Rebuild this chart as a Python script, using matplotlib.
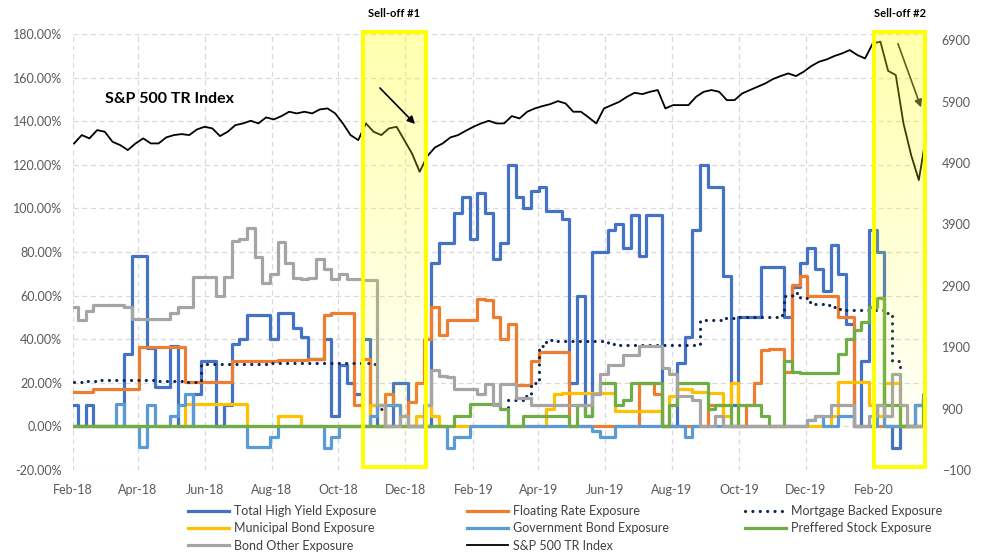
import numpy as np
import pandas as pd
import matplotlib
matplotlib.use('Agg')
import matplotlib.pyplot as plt
import matplotlib.dates as mdates
from matplotlib.patches import Rectangle
from matplotlib.ticker import FuncFormatter

plt.rcParams['font.family'] = ['Lato', 'DejaVu Sans']

# -------------------------
# data: weekly (Friday) readings, exposures in %, index in points
# -------------------------
DATES = pd.date_range('2018-02-02', '2020-03-20', freq='W-FRI')

HIGH_YIELD = [10, 0, 10, 0, 0, 0, 0, 33, 78, 78,
              36, 18, 18, 37, 0, 0, 15, 30, 30, 0,
              10, 38, 40, 51, 51, 51, 40, 52, 52, 45,
              41, 31, 31, 40, 5, 28, 20, 15, 40, 10,
              0, 0, 20, 20, 0, 0, 0, 75, 84, 84,
              98, 105, 86, 107, 98, 77, 84, 120, 105, 100,
              108, 110, 99, 99, 95, 20, 60, 5, 80, 80,
              90, 93, 82, 97, 78, 97, 97, 0, 0, 29,
              41, 90, 120, 110, 110, 69, 10, 50, 50, 50,
              73, 73, 73, 50, 64, 75, 82, 72, 62, 83,
              70, 47, 0, 30, 90, 80, 0, -10, 0, 0,
              10, 13]

FLOATING = [15.7, 15.7, 16, 17, 17, 17, 17, 17, 17, 36.4,
            36.4, 36.4, 36.4, 36.4, 36.4, 20.3, 20.3, 20.3, 20.3, 20.3,
            20.3, 30, 30, 30, 30, 30, 30, 30.5, 30.5, 30.5,
            30.5, 31, 31, 51, 52, 52, 52, 10, 31, 0,
            0, 15, 10, 5, 11, 20, 40, 55, 42, 48.6,
            48.6, 48.6, 48.6, 58.6, 58, 50, 40, 47, 19, 19,
            30, 34, 34, 34, 34, 0, 0, 0, 0, 0,
            0, 0, 0, 0, 20, 20, 15, 0, 0, 0,
            0, 0, 0, 10, 10, 0, 0, 0, 10, 20,
            35, 35.7, 35.7, 25, 65, 69, 60, 60, 60, 60,
            50, 50, 0, 0, 0, 0, 0, 0, 0, 0,
            0, 0]

MORTGAGE = [20.3, 20.5, 20.8, 21, 21.4, 21.4, 21.4, 21.4, 21.4, 21.4,
            21.2, 21, 21, 21, 20.8, 20.5, 20.3, 28.7, 28.7, 28.7,
            28.7, 28.7, 28.7, 28.7, 28.7, 28.7, 29, 29, 29, 29,
            29, 29, 29.3, 29.3, 29.3, 29.3, 29.3, 29.3, 29.3, 28.5,
            8, 0, 0, 0, 0, 0, 0, 0, 0, 0,
            0, 0, 0, 0, 0, 0, 0, 12, 12, 14,
            20, 37, 39.6, 39.4, 39.4, 39.4, 39.4, 39.4, 39.4, 39,
            38, 37.5, 37.5, 37.5, 37.5, 37.5, 37.5, 37.5, 37.5, 37.5,
            37.5, 37.5, 48.6, 49, 49, 49.5, 49.5, 50, 50, 50,
            50, 50, 51, 60, 61, 59, 57, 56, 55.5, 55,
            54, 53.5, 53.2, 53.2, 53.2, 53.2, 52, 30, 0, 0,
            0, 0]

MUNICIPAL = [0, 0, 0, 0, 0, 0, 0, 0, 0, 0,
             0, 0, 0, 0, 0, 10.4, 10.4, 10.4, 10.4, 10.4,
             10.4, 10.4, 10.4, 0, 0, 0, 0, 5, 5, 5,
             0, 0, 0, 0, 0, 0, 0, 0, 0, 10,
             10, 0, 0, 0, 0, 5, 10, 5, 0, 0,
             0, 0, 0, 0, 0, 0, 0, 0, 0, 0,
             0, 0, 8, 15, 15.5, 15.5, 15.5, 15.5, 15.5, 15.5,
             15.5, 7, 7, 7, 7, 7, 7, 0, 14, 17,
             17, 16, 16, 15.5, 15.5, 5, 20, 0, 0, 0,
             0, 0, 0, 0, 0, 0, 0, 0, 0, 5,
             20.3, 20.3, 20.3, 20.3, 10, 5, 20, 20, 0, 0,
             0, 0]

GOVERNMENT = [0, 0, 0, 0, 0, 0, 10.4, 0, 0, -9.5,
              10, 0, 0, 5, 10, 15, 0, 0, 0, 0,
              0, 0, 0, -9.5, -9.5, -9.5, -5, 0, 0, 0,
              0, 0, 0, -10, -5, 0, 0, 0, 0, 5,
              10, 10, 10, 0, 0, 0, 0, 0, 0, -10,
              -5, -5, 0, 0, 0, 0, 0, 0, 0, 0,
              0, 0, 0, 0, 0, 0, 0, 0, -2, -5,
              -5, 0, 0, 0, 0, 0, 0, 0, 0, 0,
              -5, 0, 0, 0, 0, 0, 0, 0, 0, 0,
              0, 0, 0, 0, 0, 0, 3, 5, 0, 0,
              5, 5, 0, 0, 0, 10, 0, 0, 0, 0,
              10, 15]

PREFERRED = [0, 0, 0, 0, 0, 0, 0, 0, 0, 0,
             0, 0, 0, 0, 0, 0, 0, 0, 0, 0,
             0, 0, 0, 0, 0, 0, 0, 0, 0, 0,
             0, 0, 0, 0, 0, 0, 0, 0, 0, 0,
             0, 0, 0, 0, 0, 0, 0, 0, 0, 0,
             5, 5, 10.4, 10.4, 10.4, 10.4, 8, 0, 0, 5,
             5, 5, 5, 5, 5, 0, 10, 5, 15, 20,
             20, 10, 12, 20, 20, 20, 20, 0, 10, 20,
             20, 20, 20, 8, 10, 10, 0, 10, 10, 10,
             5, 0, 0, 30, 25, 24.5, 24.5, 24.5, 24.5, 24.5,
             33, 40, 44, 48, 55, 59, 10, 10, 0, 0,
             0, 12]

BOND_OTHER = [55, 48.6, 53, 55.5, 55.5, 55.5, 55.5, 54.7, 49.4, 49.4,
              49.4, 49.4, 49.4, 52, 54.7, 54.7, 68.5, 68.5, 68.5, 60,
              68.5, 85, 86, 91, 77.6, 66, 70, 84.5, 75, 68,
              67.7, 68, 77, 72, 67.7, 70, 67.7, 67.5, 67, 67,
              10, 0, 0, 5, 0, 0, 10, 25.7, 23, 22.6,
              17, 17, 17, 15, 19.6, 9.6, 19.6, 19.6, 13, 13,
              10, 9.6, 9.6, 9.6, 9.6, 9.6, 9.6, 9.6, 15, 24,
              28, 28, 32.6, 32.6, 37, 37, 37, 27, 24, 14,
              14, 12, 0, 0, 5, 0, 0, 0, 0, 0,
              0, 0, 0, 0, 0, 0, 3, 5, 5, 10,
              10, 10, 0, 0, 5, 10, 5, 24, 10, 0,
              0, 0]

SP500_TR = [5218, 5354, 5300, 5435, 5408, 5245, 5191, 5110, 5218, 5300,
            5218, 5218, 5316, 5354, 5370, 5354, 5446, 5489, 5463, 5338,
            5408, 5516, 5544, 5587, 5544, 5642, 5609, 5663, 5734, 5707,
            5734, 5707, 5772, 5788, 5707, 5544, 5354, 5272, 5544, 5408,
            5354, 5463, 5489, 5272, 5055, 4757, 5012, 5153, 5218, 5316,
            5354, 5424, 5489, 5544, 5587, 5544, 5544, 5663, 5625, 5734,
            5788, 5826, 5858, 5907, 5869, 5734, 5734, 5642, 5544, 5788,
            5842, 5896, 5978, 6043, 6021, 6059, 6087, 5788, 5842, 5842,
            5842, 5978, 6059, 6087, 6059, 5923, 5923, 6032, 6087, 6141,
            6195, 6266, 6315, 6358, 6315, 6385, 6478, 6548, 6586, 6641,
            6684, 6738, 6657, 6602, 6847, 6874, 6400, 6331, 5544, 5028,
            4621, 5381]

SELLOFFS = [('Sell-off #1', '2018-10-23', '2018-12-20'),
            ('Sell-off #2', '2020-02-01', '2020-03-19')]

# name, values, colour, dotted?
EXPOSURES = [
    ('Total High Yield Exposure', HIGH_YIELD, '#4472C4', False),
    ('Floating Rate Exposure', FLOATING, '#ED7D31', False),
    ('Mortgage Backed Exposure', MORTGAGE, '#0D2557', True),
    ('Municipal Bond Exposure', MUNICIPAL, '#FFC000', False),
    ('Government Bond Exposure', GOVERNMENT, '#5B9BD5', False),
    ('Preffered Stock Exposure', PREFERRED, '#70AD47', False),
    ('Bond Other Exposure', BOND_OTHER, '#A5A5A5', False),
]

W, H = 982, 554
fig = plt.figure(figsize=(W / 100, H / 100), dpi=100)
ax = fig.add_axes([73 / W, 1 - 470 / H, (926.5 - 73) / W, 436 / H])
ax2 = ax.twinx()

handles = {}
for name, vals, col, dotted in EXPOSURES:
    # exposures move in steps, so hold each weekly value
    if dotted:
        ln, = ax.plot(DATES, vals, color=col, lw=2.3, ls=(0, (0.01, 2.3)),
                      dash_capstyle='round', drawstyle='steps-mid', label=name)
    else:
        ln, = ax.plot(DATES, vals, color=col, lw=2.3, solid_joinstyle='round',
                      drawstyle='steps-mid', label=name)
    handles[name] = ln

sp, = ax2.plot(DATES, SP500_TR, color='black', lw=1.3, label='S&P 500 TR Index')
handles['S&P 500 TR Index'] = sp

# sell-off boxes: fading yellow overlay + yellow frame
grad = np.zeros((256, 1, 4))
grad[..., 0] = 1.0
grad[..., 1] = 1.0
grad[..., 3] = np.linspace(0.32, 0.0, 256)[:, None]
xt = ax2.get_xaxis_transform()
for label, d0, d1 in SELLOFFS:
    x0 = mdates.date2num(pd.Timestamp(d0))
    x1 = mdates.date2num(pd.Timestamp(d1))
    ax2.imshow(grad, extent=[x0, x1, 0.007, 1.0], transform=xt, aspect='auto',
               interpolation='bilinear', zorder=5)
    ax2.add_patch(Rectangle((x0, 0.007), x1 - x0, 0.998, transform=xt, fill=False,
                            ec='#FFFF00', lw=2.8, zorder=6, clip_on=False))
    ax2.text((x0 + x1) / 2, 1.046, label, transform=xt, ha='center', va='center',
             fontsize=8, fontweight='bold', color='black')

# arrows
ax2.annotate('', xy=(417, H - 126), xycoords='figure pixels', xytext=(378, H - 86),
             textcoords='figure pixels', zorder=7,
             arrowprops=dict(arrowstyle='-|>', color='black', lw=1.2, mutation_scale=11))
ax2.annotate('', xy=(922, H - 110), xycoords='figure pixels', xytext=(897, H - 41),
             textcoords='figure pixels', zorder=4,
             arrowprops=dict(arrowstyle='-|>', color='#222222', lw=1.2, mutation_scale=11))

fig.text(105 / W, 1 - 99 / H, 'S&P 500 TR Index', fontsize=11.5, fontweight='bold',
         ha='left', va='center')

# axes
ax.set_xlim(pd.Timestamp('2018-02-01'), pd.Timestamp('2020-03-20'))
ax2.set_xlim(pd.Timestamp('2018-02-01'), pd.Timestamp('2020-03-20'))
ax.set_ylim(-20, 180)
ax.set_yticks(range(-20, 181, 20))
ax.yaxis.set_major_formatter(FuncFormatter(lambda v, p: f'{v:.2f}%'))
ax2.set_ylim(-100, 7000)
ax2.set_yticks(range(-100, 6901, 1000))
ax.xaxis.set_major_locator(mdates.MonthLocator(bymonth=(2, 4, 6, 8, 10, 12)))
ax.xaxis.set_major_formatter(mdates.DateFormatter('%b-%y'))
ax.grid(True, color='#D9D9D9', ls=(0, (4, 3)), lw=0.9)
ax.set_axisbelow(True)
for a in (ax, ax2):
    for s in a.spines.values():
        s.set_visible(False)
    a.tick_params(length=0, labelsize=9, labelcolor='#595959')
ax.tick_params(axis='y', pad=8)
ax.tick_params(axis='x', pad=10)
ax2.tick_params(axis='y', pad=11)

# legend, three columns
cols = [['Total High Yield Exposure', 'Municipal Bond Exposure', 'Bond Other Exposure'],
        ['Floating Rate Exposure', 'Government Bond Exposure', 'S&P 500 TR Index'],
        ['Mortgage Backed Exposure', 'Preffered Stock Exposure']]
for names, xpix in zip(cols, (188, 467, 745)):
    fig.legend(handles=[handles[n] for n in names], loc='upper left',
               bbox_to_anchor=(xpix / W, 1 - 505 / H), frameon=False, fontsize=9,
               handlelength=3.3, handletextpad=0.35, labelspacing=0.42,
               borderpad=0, borderaxespad=0, labelcolor='#404040')

fig.savefig('out.png', dpi=100)
